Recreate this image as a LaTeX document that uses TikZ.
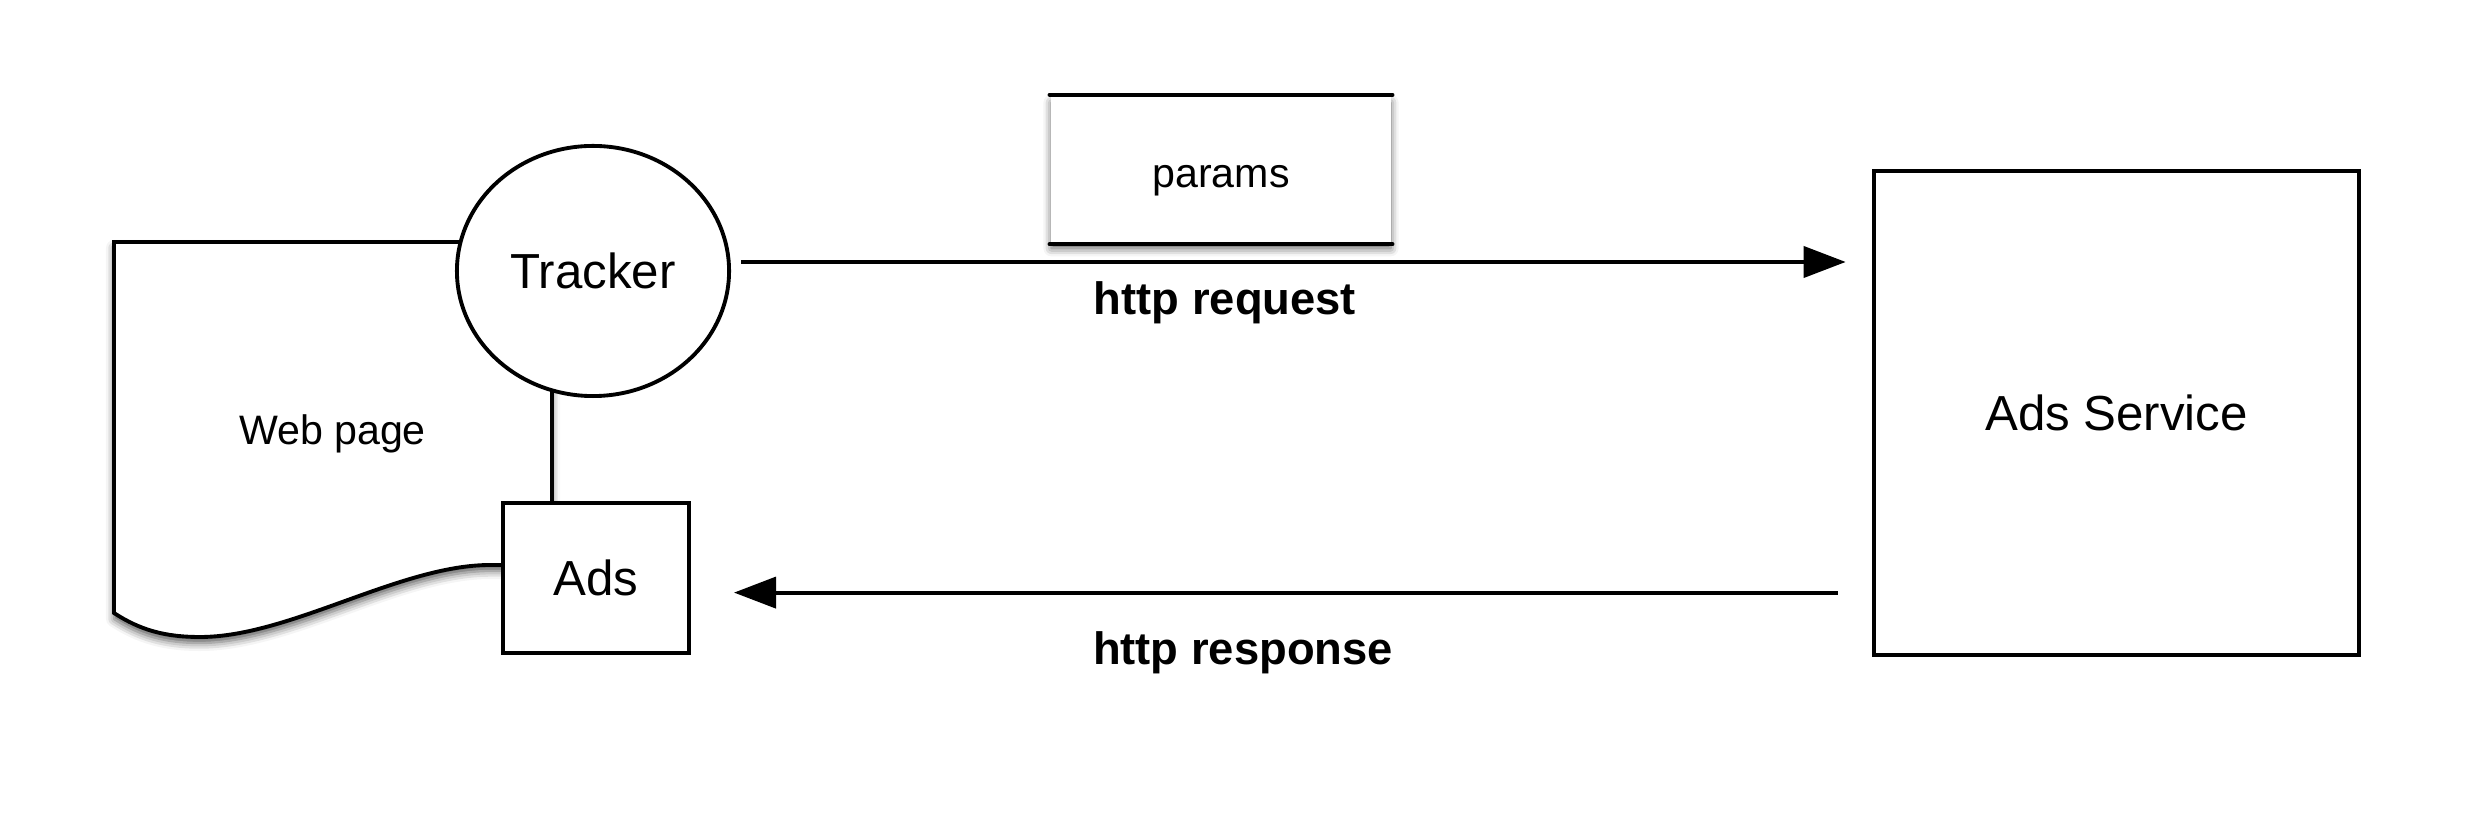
\documentclass[tikz,border=0pt]{standalone}
\usepackage{fontspec}
\setmainfont{Liberation Sans}
\usetikzlibrary{shapes.geometric,arrows.meta,shadows.blur}

\begin{document}
\begin{tikzpicture}[x=0.01cm,y=-0.01cm,line width=1.1pt,>={Triangle[length=0.42cm,width=0.31cm,fill=black]}]
    \tikzstyle{flow}=[->,shorten <=0.1cm]
    \tikzstyle{box}=[rectangle,draw,fill=white,inner sep=0pt]
    \tikzstyle{big}=[font=\fontsize{14}{16}\selectfont]
    \tikzstyle{small}=[font=\fontsize{11.7}{14}\selectfont]
    \tikzstyle{lbl}=[font=\fontsize{12.9}{15}\selectfont\bfseries,anchor=base]
    \tikzstyle{soft}=[blur shadow={shadow xshift=0pt,shadow yshift=-0.06cm,shadow blur radius=0.08cm,shadow opacity=65}]

\useasboundingbox (0,0) rectangle (2472,828);

% web page
\draw[fill=white,soft] (114,613) -- (114,242) -- (552,242) -- (552,565) -- (490,565)
    .. controls (400,565) and (290,637) .. (200,637)
    .. controls (165,637) and (140,630) .. cycle;
\node[small,anchor=base] (page) at (332.5,445) {Web page};

\node[big,ellipse,draw,fill=white,minimum width=2.72cm,minimum height=2.5cm,inner sep=0pt] (tracker) at (593,271) {Tracker};
\node[box,big,minimum width=1.86cm,minimum height=1.5cm] (ads) at (596,578) {Ads};
\node[box,big,minimum width=4.855cm,minimum height=4.84cm] (service) at (2116.5,413) {Ads Service};

% params
\node[rectangle,fill=white,soft,small,minimum width=3.39cm,minimum height=1.456cm,text height=12pt,text depth=2pt] (params) at (1221,169.5) {params};
\draw[line cap=round] (params.north west) -- (params.north east);
\draw[line cap=round] (params.south west) -- (params.south east);

\coordinate (req) at ([yshift=0.09cm]tracker.east);
\draw[flow,shorten >=0.26cm] (req) -- (req -| service.west);
\coordinate (resp) at ([yshift=-0.146cm]ads.east);
\draw[flow,shorten <=0.34cm,shorten >=0.43cm] (resp -| service.west) -- (resp);

\node[lbl] (reqlabel) at (1225,315) {http request};
\node[lbl] (resplabel) at (1243,665) {http response};
\end{tikzpicture}
\end{document}
